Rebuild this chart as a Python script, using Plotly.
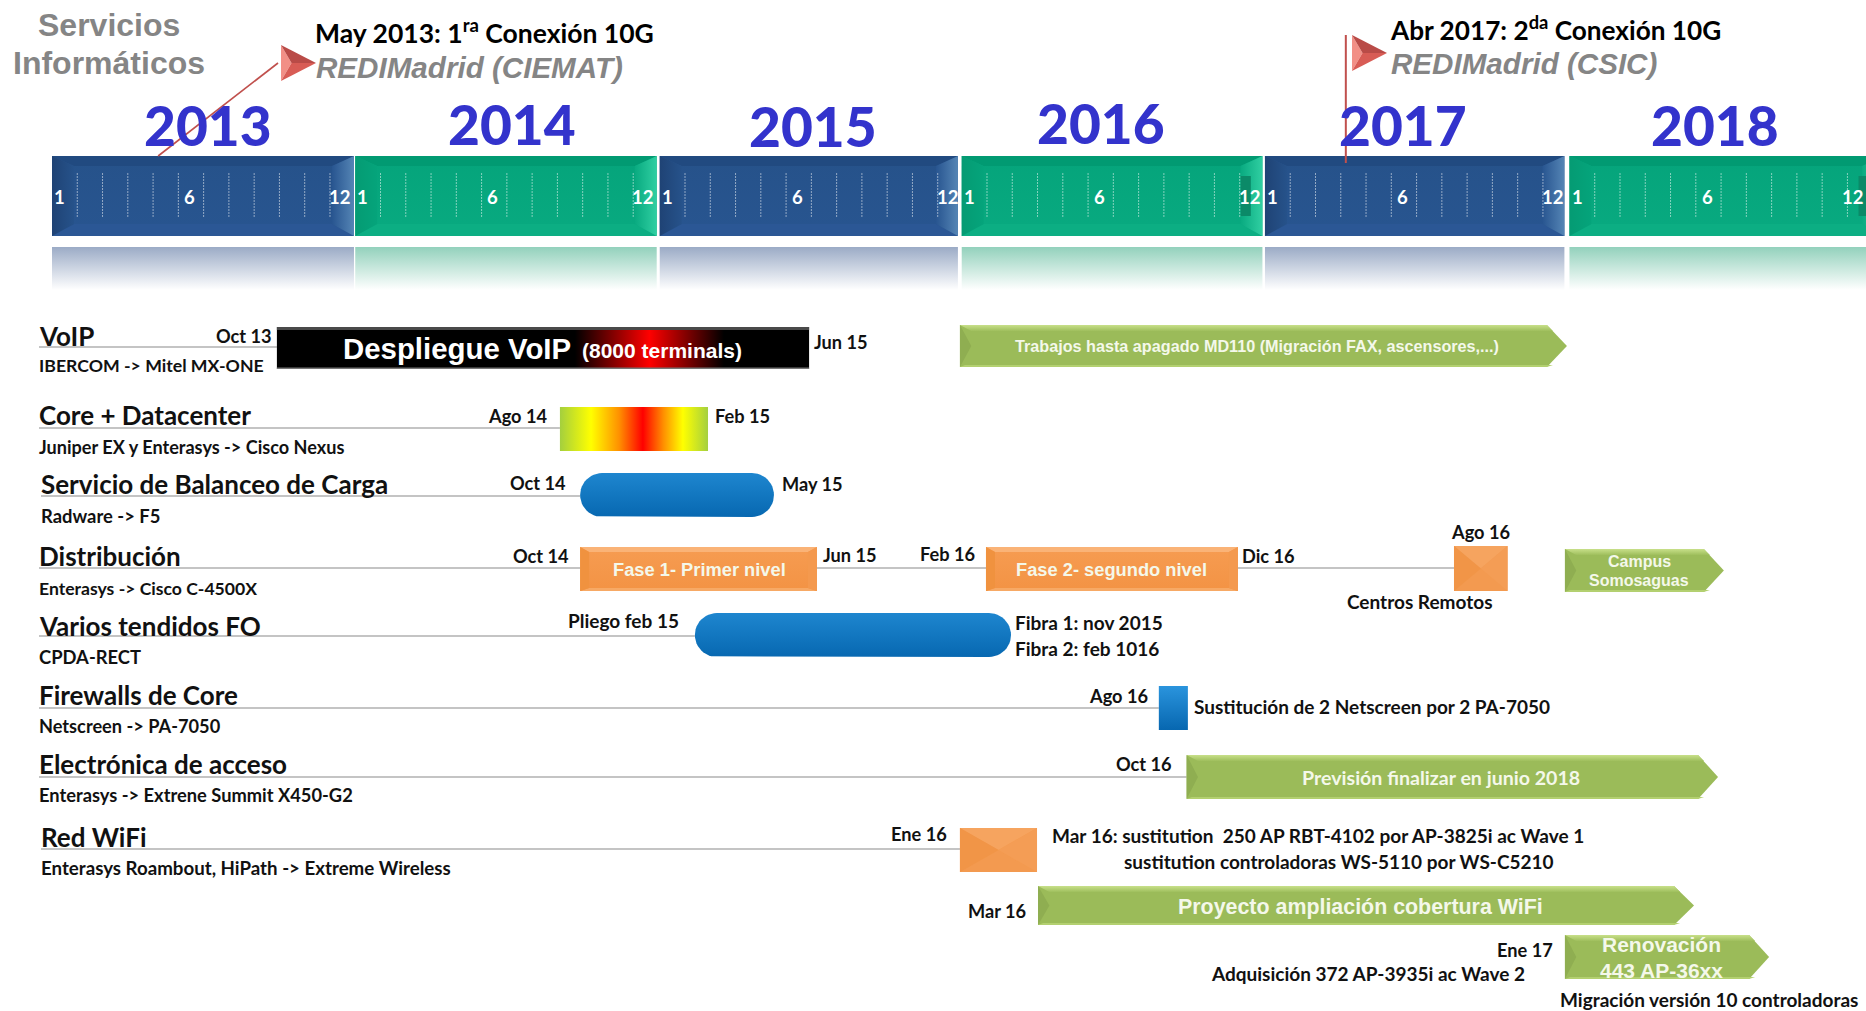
import math
import plotly.graph_objects as go

W, H = 1866, 1011
PX_PER_MONTH = 25.27
ORIGIN_PX = 52

# ---------- data: time in months since Jan 2013 ----------
band_years = [2013, 2014, 2015, 2016, 2017, 2018]
band_start = [0.0, 12.0, 24.05, 36.0, 48.0, 60.05]
band_end = [11.95, 23.93, 35.85, 47.9, 59.85, 72.5]
band_theme = ["blue", "green", "blue", "green", "blue", "green"]
year_label_px = [208, 512, 813, 1101, 1403, 1715]
year_label_y = [125, 124, 126, 123, 125, 125]
month_ticks = [1, 2, 3, 4, 5, 6, 7, 8, 9, 10, 11]
month_labels = [1, 6, 12]
month_label_pos = [0.3, 5.45, 11.38]

flag_month = [4.2, 51.2]
flag_top = [63, 35]
flag_foot = [156, 163]

task_start = [8.9, 35.93, 20.1, 20.9, 20.9, 36.96, 55.48, 59.87, 25.44, 43.8, 44.9, 35.93, 39.02, 59.87]
task_end = [29.96, 59.95, 25.96, 28.57, 30.27, 46.93, 57.6, 66.16, 37.95, 44.95, 65.93, 38.98, 64.98, 67.95]
task_mid = [348, 346, 429, 495, 569, 569, 568.5, 570.5, 635, 708, 777, 850, 905.5, 957]
task_span = [42, 42, 44, 44, 44, 44, 45, 43, 44, 44, 44, 44, 39, 44]
task_kind = ["voip", "arrow", "core", "pill", "orange", "orange", "orangebox", "arrow", "pill", "bluebox", "arrow", "orangebox", "arrow", "arrow"]

row_line_y = [347, 428, 496, 568, 636, 708, 777, 849]
row_line_end = [8.9, 20.1, 20.9, 55.48, 25.44, 43.8, 44.9, 35.93]

titles = ["VoIP", "Core + Datacenter", "Servicio de Balanceo de Carga", "Distribución",
          "Varios tendidos FO", "Firewalls de Core", "Electrónica de acceso", "Red WiFi"]
title_x = [37, 37, 39, 37, 37, 37, 37, 39]
title_y = [335.5, 415, 484, 556, 626, 695, 764, 837]
subtitles = ["IBERCOM -> Mitel MX-ONE", "Juniper EX y Enterasys -> Cisco Nexus", "Radware -> F5",
             "Enterasys -> Cisco C-4500X", "CPDA-RECT", "Netscreen -> PA-7050",
             "Enterasys -> Extrene Summit X450-G2", "Enterasys Roambout, HiPath -> Extreme Wireless"]
subtitle_y = [365, 447, 516, 588, 657, 726, 795, 868]
subtitle_size = [17.7, 18.1, 18.4, 17.6, 18.4, 18.2, 18.3, 18.7]

# black note text: text, x px, y px, anchor
notes = [
    ("Oct 13", 274, 336, "right"), ("Jun 15", 812, 342, "left"),
    ("Ago 14", 549, 416, "right"), ("Feb 15", 713, 416, "left"),
    ("Oct 14", 568, 483, "right"), ("May 15", 780, 484, "left"),
    ("Oct 14", 571, 556, "right"), ("Jun 15", 821, 555, "left"),
    ("Feb 16", 977, 554, "right"), ("Dic 16", 1240, 556, "left"),
    ("Ago 16", 1480, 532, "center"), ("Centros Remotos", 1419, 601, "center"),
    ("Pliego feb 15", 681, 620, "right"),
    ("Fibra 1: nov 2015", 1013, 622, "left"), ("Fibra 2: feb 1016", 1013, 648, "left"),
    ("Ago 16", 1150, 696, "right"),
    ("Sustitución de 2 Netscreen por 2 PA-7050", 1192, 706, "left"),
    ("Oct 16", 1174, 764, "right"), ("Ene 16", 949, 834, "right"),
    ("Mar 16: sustitution  250 AP RBT-4102 por AP-3825i ac Wave 1", 1050, 835, "left"),
    ("sustitution controladoras WS-5110 por WS-C5210", 1122, 861, "left"),
    ("Mar 16", 1028, 911, "right"), ("Ene 17", 1555, 950, "right"),
    ("Adquisición 372 AP-3935i ac Wave 2", 1527, 973, "right"),
    ("Migración versión 10 controladoras", 1558, 999, "left"),
]

# white text on bars: text, x px, y px, size, font
bar_texts = [
    ("Trabajos hasta apagado MD110 (Migración FAX, ascensores,...)", 1257, 346, 16.2, "Liberation Sans"),
    ("Fase 1- Primer nivel", 699, 569, 18.3, "Liberation Sans"),
    ("Fase 2- segundo nivel", 1111, 569, 18.3, "Liberation Sans"),
    ("Campus", 1639, 561, 16, "Liberation Sans"),
    ("Somosaguas", 1639, 580, 16, "Liberation Sans"),
    ("Previsión finalizar en junio 2018", 1441, 777, 19.6, "Lato"),
    ("Proyecto ampliación cobertura WiFi", 1360, 907, 21.4, "Liberation Sans"),
    ("Renovación", 1661, 944, 21, "Liberation Sans"),
    ("443 AP-36xx", 1661, 970, 21, "Liberation Sans"),
]

THEMES = {
    "blue": dict(top="#214a80", left="#1f4375", right="#5585b5", bottom="#2b5795",
                 c0="#26528a", c1="#285590", ref="#9babc6"),
    "green": dict(top="#019a72", left="#059b73", right="#30cfa2", bottom="#0cae83",
                  c0="#05a47b", c1="#09aa80", ref="#93d1bc"),
}

# odd darker patches behind the last month label
patch_band = [3, 5]
patch_from = [11.04, 11.44]
patch_to = [11.44, 11.84]
patch_color = "#0b8a68"


def mx(px):
    return (px - ORIGIN_PX) / PX_PER_MONTH


fig = go.Figure()


def poly(xs, ys, color=None, grad=None, gtype="vertical"):
    style = dict(fillcolor=color) if color else dict(
        fillgradient=dict(type=gtype, colorscale=grad))
    fig.add_trace(go.Scatter(x=xs + xs[:1], y=ys + ys[:1], mode="lines", line=dict(width=0),
                             fill="toself", hoverinfo="skip", showlegend=False, **style))


def vgrad(a, b):
    # y axis is reversed: a is the colour at the top of the shape
    return [[0, b], [1, a]]


def hgrad(a, b):
    return [[0, a], [1, b]]


def bevel_rect(x0, x1, y0, y1, bx, by_t, by_b, top, bottom, left, right):
    d = bx / PX_PER_MONTH
    poly([x0, x1, x1 - d, x0 + d], [y0, y0, y0 + by_t, y0 + by_t], top)
    poly([x0, x1, x1 - d, x0 + d], [y1, y1, y1 - by_b, y1 - by_b], bottom)
    poly([x0, x0 + d, x0 + d, x0], [y0, y0 + by_t, y1 - by_b, y1], left)
    poly([x1, x1 - d, x1 - d, x1], [y0, y0 + by_t, y1 - by_b, y1], right)


# ---------- year bands ----------
BAND_T, BAND_B, REF_T, REF_B = 156, 236, 247, 290
for s, e, th in zip(band_start, band_end, band_theme):
    t = THEMES[th]
    d = 22 / PX_PER_MONTH
    poly([s, e, e, s], [BAND_T, BAND_T, BAND_B, BAND_B], grad=vgrad(t["c0"], t["c1"]))
    poly([s, e, e - d, s + d], [BAND_T, BAND_T, BAND_T + 10, BAND_T + 10], t["top"])
    poly([s, e, e - d, s + d], [BAND_B, BAND_B, BAND_B - 12, BAND_B - 12], t["bottom"])
    poly([s, s + d, s + d, s], [BAND_T, BAND_T + 10, BAND_B - 12, BAND_B], grad=hgrad(t["left"], t["c0"]), gtype="horizontal")
    poly([e, e - d, e - d, e], [BAND_T, BAND_T + 10, BAND_B - 12, BAND_B], grad=hgrad(t["c1"], t["right"]), gtype="horizontal")
    poly([s, e, e, s], [REF_T, REF_T, REF_B, REF_B], grad=vgrad(t["ref"], "#ffffff"))

for b, a0, a1 in zip(patch_band, patch_from, patch_to):
    s = band_start[b]
    poly([s + a0, s + a1, s + a1, s + a0], [176, 176, 216, 216], patch_color)

tx, ty = [], []
for s in band_start:
    for m in month_ticks:
        tx += [s + m, s + m, None]
        ty += [173, 217, None]
fig.add_trace(go.Scatter(x=tx, y=ty, mode="lines", hoverinfo="skip", showlegend=False, opacity=0.5,
                         line=dict(color="#ffffff", width=1, dash="2px,1px")))

# ---------- flags ----------
fig.add_trace(go.Scatter(x=[flag_month[0], mx(278)], y=[flag_foot[0], flag_top[0]], mode="lines",
                         line=dict(color="#c0504d", width=1.6), hoverinfo="skip", showlegend=False))
fig.add_trace(go.Scatter(x=[flag_month[1], flag_month[1]], y=[flag_foot[1], flag_top[1]], mode="lines",
                         line=dict(color="#c0504d", width=2), hoverinfo="skip", showlegend=False))
for x0_px, x1_px, y0, y1 in [(281, 316, 45, 81), (1352, 1387, 35, 71)]:
    a, b = mx(x0_px), mx(x1_px)
    c = a + (b - a) * 0.3
    ym = (y0 + y1) / 2
    poly([a, a, c], [y0, y1, ym], "#f28f86")
    poly([a, b, c], [y0, ym, ym], "#b94b47")
    poly([a, b, c], [y1, ym, ym], "#d85c55")

# ---------- row lines ----------
for ly, le, tx0 in zip(row_line_y, row_line_end, title_x):
    fig.add_trace(go.Scatter(x=[mx(tx0 + 2), le], y=[ly, ly], mode="lines",
                             line=dict(color="#c4c4c4", width=2.2), hoverinfo="skip", showlegend=False))


# ---------- task bars ----------
def pill(x0, x1, y0, y1):
    r = 22 / PX_PER_MONTH
    ry = (y1 - y0) * 0.5
    xs, ys = [], []
    for cx, cy, a0 in [(x1 - r, y0 + ry, -90), (x0 + r, y0 + ry, 90)]:
        for i in range(25):
            a = math.radians(a0 + i * 7.5)
            xs.append(cx + r * math.cos(a))
            ys.append(cy + ry * math.sin(a))
    poly(xs, ys, grad=vgrad("#1e86cf", "#0768b1"))


def arrow(x0, x1, y0, y1):
    head = 20 / PX_PER_MONTH
    ym = (y0 + y1) / 2
    poly([x0, x1 - head, x1, x1 - head, x0], [y0, y0, ym, y1, y1], "#9bbb59")
    poly([x0, x1 - head, x1 - head * 0.7, x0 + 0.45], [y0, y0, y0 + 6, y0 + 6],
         grad=vgrad("#c8e08a", "#9fbf5d"))
    poly([x0, x0 + 0.45, x0], [y0, ym, y1], "#8fae51")
    poly([x1 - head, x1, x1 - head * 0.7], [y0, ym, y0 + 6], "#afcd6e")
    poly([x0, x1 - head, x1 - head * 0.7, x0 + 0.2], [y1, y1, y1 - 2, y1 - 2], "#b3d070")


for s, e, mid, span, kind in zip(task_start, task_end, task_mid, task_span, task_kind):
    y0, y1 = mid - span / 2, mid + span / 2
    rx, ry = [s, e, e, s], [y0, y0, y1, y1]
    if kind == "voip":
        poly(rx, ry, grad=[[0, "#000000"], [0.56, "#000000"], [0.70, "#ff0000"], [0.84, "#000000"], [1, "#000000"]],
             gtype="horizontal")
        poly(rx, [y0, y0, y0 + 3, y0 + 3], "#4a4a4a")
        poly(rx, [y1 - 1.5, y1 - 1.5, y1, y1], "#777777")
    elif kind == "core":
        poly(rx, ry, grad=[[0, "#a4cf3e"], [0.21, "#ffff00"], [0.40, "#ff9000"], [0.56, "#ff0000"],
                           [0.70, "#ff9000"], [0.83, "#ffff00"], [1, "#a4d040"]], gtype="horizontal")
    elif kind == "pill":
        pill(s, e, y0, y1)
    elif kind == "orange":
        poly(rx, ry, grad=vgrad("#f69c52", "#f39344"))
        bevel_rect(s, e, y0, y1, 9, 5, 3, "#fab377", "#f7a965", "#f0923f", "#f4994e")
    elif kind == "orangebox":
        w_px = (e - s) * PX_PER_MONTH / 2
        poly(rx, ry, "#f49a4e")
        bevel_rect(s, e, y0, y1, w_px, span / 2, span / 2, "#f6a45f", "#f39a50", "#f19547", "#f49d55")
    elif kind == "bluebox":
        poly(rx, ry, grad=vgrad("#2a94dd", "#0767b0"))
    else:
        arrow(s, e, y0, y1)

# ---------- text ----------
ann = []


def text(s, x, y, size, color="#000000", family="Lato", anchor="left", weight="bold", style="normal"):
    ann.append(dict(text=s, x=x / W, y=y, xref="paper", yref="y", xanchor=anchor, yanchor="middle",
                    showarrow=False, align=anchor,
                    font=dict(size=size, color=color, family=family, weight=weight, style=style)))


GRAY = "#858585"
text("Servicios", 109, 25, 32, GRAY, "Liberation Sans", "center")
text("Informáticos", 109, 63, 32, GRAY, "Liberation Sans", "center")
text("May 2013: 1<sup>ra</sup> Conexión 10G", 313, 31, 26.5)
text("REDIMadrid (CIEMAT)", 314, 67, 29.6, GRAY, "Liberation Sans", style="italic")
text("Abr 2017: 2<sup>da</sup> Conexión 10G", 1388, 28, 26.2)
text("REDIMadrid (CSIC)", 1389, 63, 29.6, GRAY, "Liberation Sans", style="italic")

for yr, px, yy in zip(band_years, year_label_px, year_label_y):
    text(str(yr), px, yy, 55, "#3333cc", anchor="center", weight=900)

for s in band_start:
    for lab, pos in zip(month_labels, month_label_pos):
        cx = ORIGIN_PX + (s + pos) * PX_PER_MONTH
        if cx + 11 > W:
            text(str(lab), W - 1, 197, 18.5, "#ffffff", anchor="right")
        else:
            text(str(lab), cx, 197, 18.5, "#ffffff", anchor="center")

for s, x, y in zip(titles, title_x, title_y):
    text(s, x, y, 26, "#111111")
for s, x, y, size in zip(subtitles, title_x, subtitle_y, subtitle_size):
    text(s, x, y, size, "#111111")
for s, x, y, a in notes:
    text(s, x, y, 18.2 if len(s) <= 6 else 19, "#111111", anchor=a)
for s, x, y, size, fam in bar_texts:
    text(s, x, y, size, "#f4f8ea", fam, "center")

text("Despliegue VoIP", 341, 348, 29.4, "#ffffff", "Liberation Sans")
text("(8000 terminals)", 580, 350, 21, "#ffffff", "Liberation Sans")

fig.update_layout(
    width=W, height=H, margin=dict(l=0, r=0, t=0, b=0), paper_bgcolor="#ffffff", plot_bgcolor="#ffffff",
    showlegend=False, annotations=ann, font=dict(family="Lato"),
    xaxis=dict(range=[mx(0), mx(W)], visible=False, fixedrange=True),
    yaxis=dict(range=[H, 0], visible=False, fixedrange=True),
)
fig.write_html("out.html", config=dict(displayModeBar=False),
               post_script="document.body.style.margin='0';document.documentElement.style.overflow='hidden';")
